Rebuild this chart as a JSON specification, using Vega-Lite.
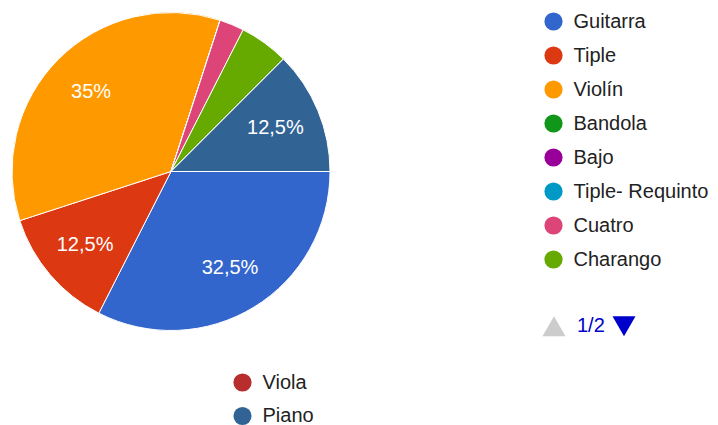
{
  "$schema": "https://vega.github.io/schema/vega-lite/v6.json",
  "width": 342,
  "height": 343,
  "padding": 0,
  "autosize": {"type": "pad"},
  "background": "white",
  "config": {
    "view": {"stroke": null},
    "font": "Liberation Sans",
    "legend": {
      "labelFont": "Liberation Sans",
      "labelFontSize": 20,
      "labelColor": "#222222",
      "labelLimit": 300,
      "title": null,
      "padding": 0
    }
  },
  "datasets": {
    "instrumentos": [
      {"instrumento": "Guitarra", "porcentaje": 32.5, "orden": 1, "etiqueta": "32,5%"},
      {"instrumento": "Tiple", "porcentaje": 12.5, "orden": 2, "etiqueta": "12,5%"},
      {"instrumento": "Violín", "porcentaje": 35, "orden": 3, "etiqueta": "35%"},
      {"instrumento": "Bandola", "porcentaje": 0, "orden": 4, "etiqueta": ""},
      {"instrumento": "Bajo", "porcentaje": 0, "orden": 5, "etiqueta": ""},
      {"instrumento": "Tiple- Requinto", "porcentaje": 0, "orden": 6, "etiqueta": ""},
      {"instrumento": "Cuatro", "porcentaje": 2.5, "orden": 7, "etiqueta": ""},
      {"instrumento": "Charango", "porcentaje": 5, "orden": 8, "etiqueta": ""},
      {"instrumento": "Viola", "porcentaje": 0, "orden": 9, "etiqueta": ""},
      {"instrumento": "Piano", "porcentaje": 12.5, "orden": 10, "etiqueta": "12,5%"}
    ],
    "paginas": [
      {"pagina": "1/2"},
      {"pagina": " "}
    ]
  },
  "layer": [
    {
      "data": {"name": "instrumentos"},
      "mark": {"type": "arc", "outerRadius": 159, "stroke": "white", "strokeWidth": 1},
      "encoding": {
        "theta": {"field": "porcentaje", "type": "quantitative", "stack": true, "scale": {"range": [1.5707963, 7.8539816]}},
        "order": {"field": "orden", "type": "quantitative"},
        "color": {
          "field": "instrumento",
          "type": "nominal",
          "scale": {
            "domain": ["Guitarra", "Tiple", "Violín", "Bandola", "Bajo", "Tiple- Requinto", "Cuatro", "Charango", "Viola", "Piano"],
            "range": ["#3366cc", "#dc3912", "#ff9900", "#109618", "#990099", "#0099c6", "#dd4477", "#66aa00", "#b82e2e", "#316395"]
          },
          "legend": {
            "orient": "none",
            "legendX": 543.5,
            "legendY": 11.5,
            "values": ["Guitarra", "Tiple", "Violín", "Bandola", "Bajo", "Tiple- Requinto", "Cuatro", "Charango"],
            "symbolType": "circle",
            "symbolSize": 330,
            "symbolStrokeWidth": 0,
            "labelOffset": 10,
            "rowPadding": 14
          }
        }
      }
    },
    {
      "data": {"name": "instrumentos"},
      "mark": {"type": "arc", "outerRadius": 159, "stroke": "white", "strokeWidth": 1},
      "encoding": {
        "theta": {"field": "porcentaje", "type": "quantitative", "stack": true},
        "order": {"field": "orden", "type": "quantitative"},
        "color": {
          "field": "instrumento",
          "type": "nominal",
          "scale": {
            "domain": ["Guitarra", "Tiple", "Violín", "Bandola", "Bajo", "Tiple- Requinto", "Cuatro", "Charango", "Viola", "Piano"],
            "range": ["#3366cc", "#dc3912", "#ff9900", "#109618", "#990099", "#0099c6", "#dd4477", "#66aa00", "#b82e2e", "#316395"]
          },
          "legend": {
            "orient": "none",
            "legendX": 232.5,
            "legendY": 372.5,
            "values": ["Viola", "Piano"],
            "symbolType": "circle",
            "symbolSize": 330,
            "symbolStrokeWidth": 0,
            "labelOffset": 10,
            "rowPadding": 13.5
          }
        }
      }
    },
    {
      "data": {"name": "instrumentos"},
      "mark": {"type": "text", "radius": 113, "fontSize": 20, "fill": "white", "font": "Liberation Sans", "align": "center", "baseline": "middle"},
      "encoding": {
        "theta": {"field": "porcentaje", "type": "quantitative", "stack": true},
        "order": {"field": "orden", "type": "quantitative"},
        "text": {"field": "etiqueta", "type": "nominal"}
      }
    },
    {
      "data": {"name": "paginas"},
      "mark": {"type": "point", "filled": true, "size": 0},
      "encoding": {
        "shape": {
          "field": "pagina",
          "type": "nominal",
          "scale": {"domain": ["1/2", " "], "range": ["triangle-up", "triangle-down"]},
          "legend": {
            "orient": "none",
            "legendX": 541.5,
            "legendY": 313.5,
            "direction": "horizontal",
            "symbolSize": 530,
            "symbolOpacity": 1,
            "labelOffset": 10.5,
            "columnPadding": 3,
            "labelColor": "#0000cc"
          }
        },
        "color": {
          "field": "pagina",
          "type": "nominal",
          "scale": {"domain": ["1/2", " "], "range": ["#cccccc", "#0000cc"]},
          "legend": {
            "orient": "none",
            "legendX": 541.5,
            "legendY": 313.5,
            "direction": "horizontal",
            "symbolSize": 530,
            "symbolOpacity": 1,
            "labelOffset": 10.5,
            "columnPadding": 3,
            "labelColor": "#0000cc"
          }
        }
      }
    }
  ],
  "resolve": {
    "scale": {"color": "independent", "shape": "independent"},
    "legend": {"color": "independent", "shape": "independent"}
  }
}
